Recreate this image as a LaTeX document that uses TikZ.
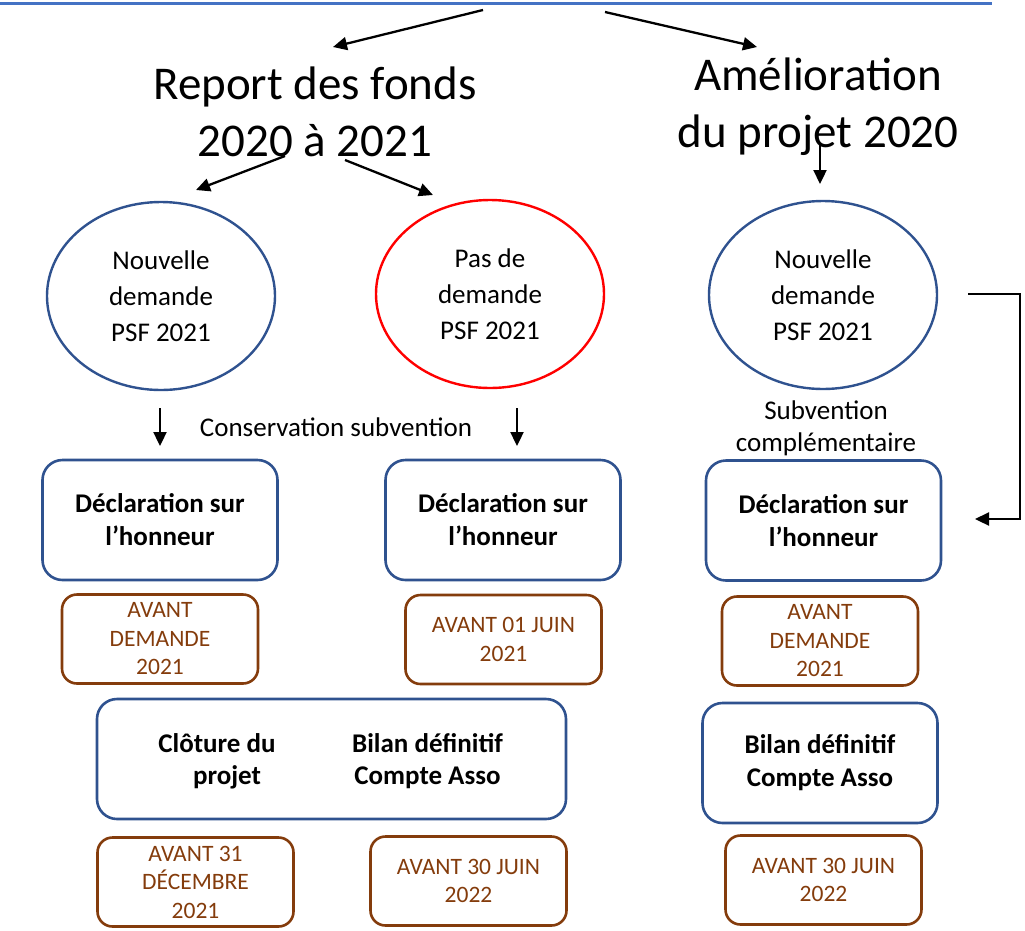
\documentclass[tikz,border=0pt]{standalone}
\usepackage{fontspec}
\setmainfont{Carlito}
\usetikzlibrary{arrows.meta,shapes.geometric}
\definecolor{bord}{HTML}{2F528F}
\definecolor{brun}{HTML}{843C0C}
\definecolor{ligne}{HTML}{4472C4}
\begin{document}
\begin{tikzpicture}[x=1pt,y=-1pt,
  arr/.style={line width=2.3pt,-{Triangle[length=14pt,width=13pt]}},
  ell/.style={ellipse,draw=bord,line width=2.4pt,minimum width=228pt,minimum height=188pt,inner sep=0pt,align=center,font=\fontsize{27}{36}\selectfont},
  bluebox/.style={rectangle,rounded corners=20pt,draw=bord,line width=2.6pt,minimum width=235pt,minimum height=120pt,inner sep=0pt,align=center,font=\bfseries\fontsize{27}{33}\selectfont},
  boldtxt/.style={align=center,inner sep=0pt,font=\bfseries\fontsize{27}{32}\selectfont},
  brownbox/.style={rectangle,rounded corners=15pt,draw=brun,line width=2.6pt,minimum width=196pt,minimum height=89pt,inner sep=0pt,align=center,text=brun,font=\fontsize{23.5}{28.5}\selectfont},
  title/.style={align=center,inner sep=0pt,font=\fontsize{47}{57}\selectfont},
  lbl/.style={align=center,inner sep=0pt,font=\fontsize{27}{32}\selectfont}]
\useasboundingbox (0,0) rectangle (1025,930);
\draw[ligne,line width=3pt] (0,3) -- (992,3);

% titles
\node[title] (rep) at (315,112) {Report des fonds\\2020 à 2021};
\node[title] (ame) at (818,107) {Amélioration\\du projet 2020};

\coordinate (s1) at (483,10); \coordinate (e1) at (333,47);
\coordinate (s2) at (605,12); \coordinate (e2) at (757,47);
\draw[arr] (s1) -- (e1);
\draw[arr] (s2) -- (e2);

\coordinate (r1) at (285,156); \coordinate (r1e) at (196,190);
\coordinate (r2) at (345,160); \coordinate (r2e) at (433,195);
\draw[arr] (r1) -- (r1e);
\draw[arr] (r2) -- (r2e);
\coordinate (m1) at (820,145); \coordinate (m1e) at (820,184);
\draw[arr] (m1) -- (m1e);

% ellipses
\node[ell] (n1) at (161,296) {Nouvelle\\demande\\PSF 2021};
\node[ell,draw=red] (n2) at (490,294) {Pas de\\demande\\PSF 2021};
\node[ell] (n3) at (823,295) {Nouvelle\\demande\\PSF 2021};

% labels and small arrows
\node[lbl] (cons) at (336,427) {Conservation subvention};
\node[lbl] (subv) at (826,428) {Subvention\\complémentaire};
\coordinate (p1) at (160,408); \coordinate (p1e) at (160,446);
\coordinate (p2) at (517,408); \coordinate (p2e) at (517,446);
\draw[arr] (p1) -- (p1e);
\draw[arr] (p2) -- (p2e);

% declaration boxes
\node[bluebox] (d1) at (160,520) {Déclaration sur\\l’honneur};
\node[bluebox] (d2) at (503,520) {Déclaration sur\\l’honneur};
\node[bluebox] (d3) at (823.5,520.5) {Déclaration sur\\l’honneur};

% elbow connector
\coordinate (k1) at (968,294); \coordinate (k2) at (975,519);
\draw[arr] (k1) -- ++(52,0) |- (k2);

% brown boxes row 1
\node[brownbox] (a1) at (160,639) {AVANT\\DEMANDE\\2021};
\node[brownbox] (a2) at (503.5,639.5) {AVANT 01 JUIN\\2021};
\node[brownbox] (a3) at (820,641) {AVANT\\DEMANDE\\2021};

% closing boxes
\node[bluebox,minimum width=469pt] (c1) at (331.5,759) {};
\node[boldtxt] (clo) at (217,761) {Clôture du\\\hspace*{20pt}projet};
\node[boldtxt] (bil) at (427.5,761) {Bilan définitif\\Compte Asso};
\node[bluebox] (b5) at (820,763) {Bilan définitif\\Compte Asso};

% brown boxes row 2
\node[brownbox] (a4) at (195.5,882) {AVANT 31\\DÉCEMBRE\\2021};
\node[brownbox] (a5) at (468.5,881) {AVANT 30 JUIN\\2022};
\node[brownbox] (a6) at (823.5,880) {AVANT 30 JUIN\\2022};
\end{tikzpicture}
\end{document}
